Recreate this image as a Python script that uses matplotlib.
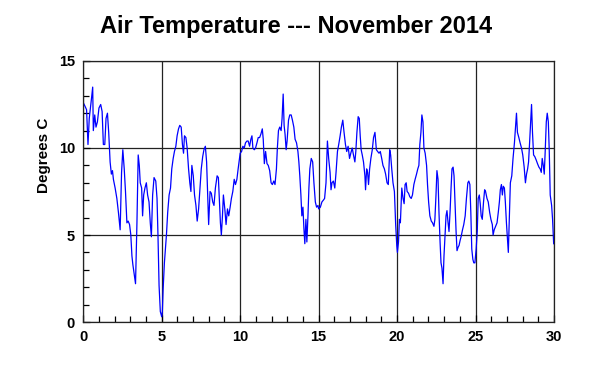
import matplotlib
matplotlib.use("Agg")
from matplotlib import pyplot as plt
from matplotlib.ticker import MultipleLocator

# day of month (days since Nov 1, 00:00) and air temperature in deg C
days_1 = [0.00, 0.11, 0.21, 0.30, 0.38, 0.47, 0.53, 0.60, 0.64, 0.73, 0.81, 0.90, 1.00,
          1.11, 1.20, 1.28, 1.37, 1.45, 1.54, 1.62, 1.71, 1.79, 1.86, 1.92, 2.03, 2.14,
          2.24, 2.35, 2.44, 2.52, 2.61, 2.69, 2.78, 2.86, 2.95, 3.03, 3.10, 3.16, 3.25,
          3.33, 3.42, 3.50, 3.57, 3.63, 3.72, 3.78, 3.85, 3.93, 4.02, 4.10, 4.19, 4.27,
          4.34, 4.42, 4.51, 4.62, 4.70, 4.76, 4.83, 4.91, 5.00]
temp_1 = [12.6, 12.4, 12.2, 10.2, 11.7, 12.4, 12.9, 13.5, 11.0, 11.9, 11.2, 11.5, 12.3,
          12.5, 12.1, 10.2, 10.2, 11.7, 12.0, 10.9, 9.2, 8.5, 8.7, 8.2, 7.7, 7.1,
          6.3, 5.3, 8.6, 9.9, 8.8, 7.5, 5.7, 5.8, 5.6, 5.0, 3.8, 3.3, 2.7,
          2.2, 5.7, 9.6, 9.0, 8.0, 7.7, 6.1, 7.3, 7.7, 8.0, 7.3, 6.9, 5.7,
          4.9, 7.3, 8.3, 8.1, 7.1, 5.0, 2.1, 0.6, 0.3]

days_2 = [5.04, 5.09, 5.17, 5.30, 5.38, 5.47, 5.56, 5.64, 5.73, 5.81, 5.90, 5.98, 6.07,
          6.15, 6.24, 6.32, 6.39, 6.45, 6.54, 6.62, 6.71, 6.79, 6.86, 6.92, 7.01, 7.09,
          7.18, 7.26, 7.35, 7.44, 7.52, 7.61, 7.69, 7.78, 7.86, 7.93, 7.99, 8.08, 8.16,
          8.25, 8.33, 8.42, 8.53, 8.61, 8.68, 8.74, 8.80, 8.87, 8.93, 9.02, 9.10, 9.19,
          9.27, 9.36, 9.44, 9.53, 9.62, 9.70, 9.79, 9.87, 9.96]
temp_2 = [0.6, 1.9, 3.4, 5.0, 6.3, 7.3, 7.7, 8.8, 9.4, 9.8, 10.1, 10.7, 11.1,
          11.3, 11.2, 10.2, 9.7, 10.7, 10.6, 10.0, 8.8, 8.0, 7.5, 9.0, 8.4, 7.3,
          6.7, 5.8, 6.5, 7.7, 8.8, 9.5, 9.9, 10.1, 9.2, 7.3, 5.6, 7.5, 7.4,
          6.9, 6.7, 7.7, 8.4, 8.3, 6.9, 5.7, 5.0, 6.1, 7.3, 6.5, 5.6, 6.5,
          6.1, 6.6, 7.1, 7.5, 8.2, 7.9, 8.2, 8.8, 9.4]

days_3 = [10.00, 10.09, 10.17, 10.26, 10.34, 10.43, 10.51, 10.60, 10.68, 10.75, 10.81,
          10.90, 10.98, 11.07, 11.15, 11.24, 11.32, 11.41, 11.47, 11.54, 11.62, 11.71,
          11.79, 11.88, 11.97, 12.05, 12.14, 12.22, 12.31, 12.37, 12.44, 12.52, 12.61,
          12.67, 12.74, 12.80, 12.86, 12.93, 12.99, 13.08, 13.16, 13.25, 13.33, 13.42,
          13.50, 13.59, 13.68, 13.74, 13.80, 13.87, 13.93, 14.00, 14.06, 14.12, 14.19,
          14.25, 14.32, 14.38, 14.44, 14.53, 14.62, 14.70, 14.79, 14.87, 14.96]
temp_3 = [9.7, 9.8, 10.1, 10.0, 10.3, 10.4, 10.4, 10.1, 10.5, 10.7, 10.0,
          9.9, 10.0, 10.3, 10.6, 10.6, 10.8, 11.1, 10.5, 9.1, 9.8, 9.1,
          9.0, 8.7, 8.0, 7.9, 8.1, 7.9, 8.8, 10.0, 11.0, 11.2, 11.0,
          11.7, 13.1, 11.3, 10.8, 9.9, 10.4, 11.6, 11.9, 11.9, 11.6, 11.2,
          10.5, 10.3, 9.8, 9.2, 8.4, 7.3, 6.1, 6.6, 5.4, 4.5, 5.9,
          4.6, 6.1, 7.7, 8.8, 9.4, 9.2, 8.0, 6.9, 6.6, 6.7]

days_4 = [15.00, 15.11, 15.21, 15.30, 15.38, 15.47, 15.56, 15.64, 15.73, 15.79, 15.85,
          15.94, 16.03, 16.11, 16.20, 16.28, 16.37, 16.45, 16.54, 16.62, 16.71, 16.79,
          16.88, 16.97, 17.05, 17.14, 17.22, 17.31, 17.37, 17.44, 17.52, 17.59, 17.65,
          17.71, 17.78, 17.86, 17.95, 17.99, 18.06, 18.12, 18.18, 18.25, 18.33, 18.42,
          18.50, 18.59, 18.68, 18.76, 18.85, 18.93, 19.02, 19.10, 19.19, 19.27, 19.36,
          19.44, 19.53, 19.59, 19.66, 19.74, 19.83, 19.91, 19.98]
temp_4 = [6.5, 6.6, 6.9, 7.0, 7.1, 8.0, 10.4, 9.4, 8.6, 7.6, 8.0,
          8.1, 7.7, 8.6, 9.8, 10.2, 10.7, 11.2, 11.6, 10.9, 10.2, 9.8,
          10.1, 9.4, 9.7, 10.0, 9.6, 9.2, 9.8, 10.9, 11.8, 11.7, 10.7,
          9.9, 9.6, 9.2, 8.4, 7.6, 8.8, 8.6, 7.9, 8.8, 9.4, 9.9,
          10.6, 10.9, 9.9, 9.8, 9.7, 9.8, 9.4, 9.0, 8.8, 8.5, 8.0,
          7.9, 9.9, 9.6, 8.8, 8.0, 7.5, 5.6, 4.4]

days_5 = [20.02, 20.09, 20.15, 20.21, 20.30, 20.38, 20.45, 20.51, 20.58, 20.64, 20.73,
          20.81, 20.90, 20.98, 21.07, 21.15, 21.24, 21.32, 21.39, 21.45, 21.52, 21.58,
          21.65, 21.71, 21.79, 21.88, 21.94, 22.01, 22.09, 22.18, 22.26, 22.35, 22.41,
          22.48, 22.54, 22.61, 22.67, 22.74, 22.80, 22.86, 22.93, 22.99, 23.06, 23.12,
          23.18, 23.25, 23.31, 23.38, 23.44, 23.50, 23.57, 23.63, 23.70, 23.76, 23.82,
          23.89, 23.95, 24.02, 24.08, 24.17, 24.25, 24.34, 24.42, 24.51, 24.57, 24.64,
          24.70, 24.76, 24.83, 24.89, 24.96]
temp_5 = [4.0, 4.6, 5.9, 5.7, 7.7, 7.1, 6.8, 7.9, 8.0, 7.5, 7.4,
          7.2, 7.1, 7.3, 7.9, 8.2, 8.5, 8.8, 9.0, 10.2, 10.9, 11.9,
          11.5, 10.0, 9.7, 9.0, 7.9, 6.9, 6.1, 5.8, 5.7, 5.5, 5.9,
          7.3, 8.7, 8.2, 6.3, 4.6, 3.4, 3.1, 2.2, 3.8, 5.0, 6.1,
          6.4, 5.7, 5.2, 6.4, 7.7, 8.8, 8.9, 8.4, 6.7, 5.2, 4.1,
          4.3, 4.4, 4.7, 4.9, 5.3, 5.6, 6.1, 7.1, 8.0, 8.1, 7.9,
          6.3, 4.2, 3.6, 3.4, 3.4]

days_6 = [25.04, 25.11, 25.17, 25.24, 25.30, 25.36, 25.43, 25.51, 25.58, 25.64, 25.73,
          25.81, 25.90, 25.98, 26.07, 26.12, 26.19, 26.28, 26.37, 26.45, 26.52, 26.58,
          26.65, 26.71, 26.77, 26.84, 26.90, 26.97, 27.03, 27.09, 27.16, 27.22, 27.31,
          27.39, 27.48, 27.54, 27.61, 27.67, 27.76, 27.84, 27.93, 28.01, 28.10, 28.18,
          28.25, 28.32, 28.38, 28.44, 28.51, 28.57, 28.63, 28.70, 28.78, 28.87, 28.95,
          29.04, 29.12, 29.19, 29.25, 29.32, 29.38, 29.44, 29.51, 29.57, 29.64, 29.70,
          29.76, 29.85, 29.91, 29.98]
temp_6 = [4.2, 5.2, 7.1, 7.3, 6.8, 6.1, 5.9, 6.9, 7.6, 7.5, 7.1,
          6.9, 6.3, 5.9, 5.6, 5.0, 5.3, 5.5, 5.7, 6.3, 6.9, 7.6,
          7.9, 7.3, 7.8, 7.7, 6.9, 5.7, 4.8, 4.0, 6.1, 8.0, 8.4,
          9.4, 10.3, 11.1, 12.0, 10.9, 10.6, 10.3, 10.0, 9.6, 8.9, 8.0,
          8.5, 8.8, 9.2, 10.2, 11.5, 12.5, 10.9, 9.6, 9.5, 9.3, 9.1,
          8.9, 8.8, 8.6, 9.4, 9.0, 8.5, 9.8, 11.5, 12.0, 11.5, 9.8,
          7.3, 6.7, 5.9, 4.5]

days = days_1 + days_2 + days_3 + days_4 + days_5 + days_6
temps = temp_1 + temp_2 + temp_3 + temp_4 + temp_5 + temp_6

plt.rcParams['font.family'] = ['Liberation Sans', 'DejaVu Sans']

fig = plt.figure(figsize=(6.0, 3.67), dpi=100)
ax = fig.add_axes([0.1388, 0.1226, 0.7845, 0.7112])

ax.plot(days, temps, color='#0000ff', linewidth=0.9)

ax.set_xlim(0, 30)
ax.set_ylim(0, 15)
ax.xaxis.set_major_locator(MultipleLocator(5))
ax.xaxis.set_minor_locator(MultipleLocator(1))
ax.yaxis.set_major_locator(MultipleLocator(5))
ax.yaxis.set_minor_locator(MultipleLocator(1))
ax.grid(True, which='major', color='#222222', linewidth=0.9)
ax.tick_params(which='both', direction='in', top=False, right=False,
               labelsize=10.5, pad=6, width=0.9)
ax.tick_params(which='major', length=5)
ax.tick_params(which='minor', length=4)
for lbl in ax.get_xticklabels() + ax.get_yticklabels():
    lbl.set_fontweight('bold')
for sp in ax.spines.values():
    sp.set_color('#222222')
    sp.set_linewidth(0.9)

# y label sits a bit above the middle of the axis in the original
fig.text(0.074, 0.578, 'Degrees C', rotation=90, ha='center', va='center',
         fontsize=11, fontweight='bold',
         family=['Liberation Sans Narrow', 'Liberation Sans', 'DejaVu Sans'])
fig.text(0.493, 0.928, 'Air Temperature --- November 2014', ha='center', va='center',
         fontsize=17, fontweight='bold')

fig.savefig('out.png', dpi=100)
